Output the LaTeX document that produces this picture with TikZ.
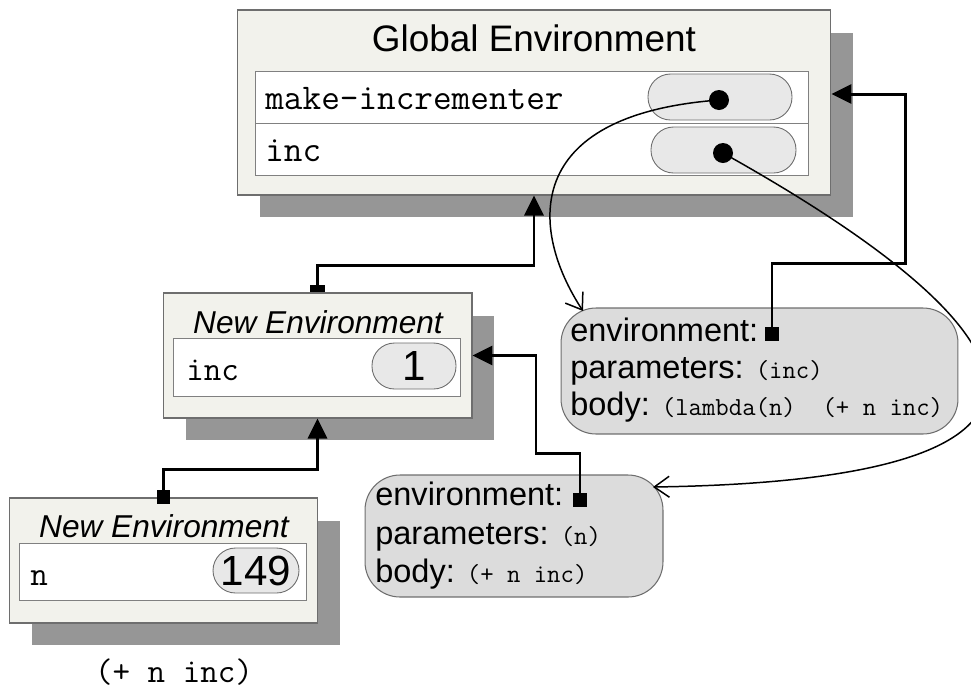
\documentclass[tikz,border=0pt]{standalone}
\usepackage{fontspec}
\setmainfont{Liberation Sans}
\usetikzlibrary{arrows.meta,shadows}
\definecolor{envfill}{HTML}{F2F2EC}
\definecolor{shade}{HTML}{969696}
\definecolor{edge}{HTML}{6E6E6E}
\definecolor{rowedge}{HTML}{808080}
\definecolor{pillfill}{HTML}{E8E8E8}
\definecolor{procfill}{HTML}{DCDCDC}
\newcommand{\codefont}{\ttfamily\fontsize{14.8}{17}\selectfont}

\begin{document}
\begin{tikzpicture}[x=0.02cm, y=-0.02cm,
        envbox/.style={draw=edge, fill=envfill, line width=0.6pt,
            drop shadow={shadow xshift=0.45cm, shadow yshift=-0.45cm, fill=shade, opacity=1}},
        row/.style={draw=rowedge, fill=white, line width=0.5pt},
        pill/.style={draw=edge, fill=pillfill, line width=0.5pt, rounded corners=0.45cm,
            font=\fontsize{24}{28}\selectfont},
        dot/.style={circle, fill=black, inner sep=0pt, minimum size=0.4cm},
        title/.style={inner sep=0pt, font=\fontsize{21}{25}\selectfont},
        envtitle/.style={inner sep=0pt, font=\itshape\fontsize{18}{21}\selectfont},
        varname/.style={inner sep=0pt, anchor=base west, font=\ttfamily\fontsize{#1}{22}\selectfont},
        procbox/.style={draw=edge, fill=procfill, line width=0.6pt, rounded corners=0.7cm},
        proctext/.style={inner sep=0pt, anchor=base west, font=\fontsize{18.5}{21}\selectfont},
        ptr/.style={line width=1.7pt, {Square[length=0.28cm, width=0.28cm]}-{Triangle[length=0.4cm, width=0.38cm]}},
        link/.style={line width=0.85pt, -{Straight Barb[length=0.3cm, width=0.42cm]}}
    ]
        \useasboundingbox (0,0) rectangle (971,691);

        \node[envbox, minimum width=11.88cm, minimum height=3.7cm] (global) at (534,102.5) {};
        \node[title] (globaltitle) at (534,38) {Global Environment};
        \node[row, minimum width=11.06cm, minimum height=1.04cm] (grow1) at (531.5,97) {};
        \node[row, minimum width=11.06cm, minimum height=1.04cm] (grow2) at (531.5,149) {};
        \node[varname=20.6] (gname1) at (265,109) {make-incrementer};
        \node[varname=20.6] (gname2) at (265,161) {inc};
        \node[pill, minimum width=2.88cm, minimum height=0.92cm] (gval1) at (720,97) {};
        \node[pill, minimum width=2.9cm, minimum height=0.92cm] (gval2) at (723.5,150) {};
        \node[dot] (gdot1) at (719,100) {};
        \node[dot] (gdot2) at (723,153) {};

        \node[envbox, minimum width=6.18cm, minimum height=2.5cm] (ne1) at (317.5,355.5) {};
        \node[envtitle] (ne1title) at (318,322) {New Environment};
        \node[row, minimum width=5.74cm, minimum height=1.16cm] (ne1row) at (316.5,367) {};
        \node[varname=19.4] (ne1name) at (186,380) {inc};
        \node[pill, minimum width=1.68cm, minimum height=0.92cm] (ne1val) at (414,366) {1};

        \node[envbox, minimum width=6.18cm, minimum height=2.5cm] (ne2) at (163.5,560.5) {};
        \node[envtitle] (ne2title) at (164,526) {New Environment};
        \node[row, minimum width=5.74cm, minimum height=1.14cm] (ne2row) at (162.5,571.5) {};
        \node[varname=19.4] (ne2name) at (30,585) {n};
        \node[pill, minimum width=1.72cm, minimum height=0.9cm] (ne2val) at (256,570.5) {149};

        \node[procbox, minimum width=7.94cm, minimum height=2.52cm] (proc1) at (759.5,371) {};
        \node[proctext] (p1env) at (570,341) {environment:};
        \node[proctext] (p1par) at (570,378) {parameters: {\codefont (inc)}};
        \node[proctext] (p1body) at (570,415) {body: {\codefont (lambda(n)\ \ (+ n inc)}};

        \node[procbox, minimum width=5.96cm, minimum height=2.44cm] (proc2) at (514,536) {};
        \node[proctext] (p2env) at (375,505) {environment:};
        \node[proctext] (p2par) at (375,544) {parameters: {\codefont (n)}};
        \node[proctext] (p2body) at (375,582) {body: {\codefont (+ n inc)}};

        \node[inner sep=0pt, font=\ttfamily\fontsize{19.4}{22}\selectfont] (expr) at (174,672) {(+ n inc)};

        \coordinate (p1ptr) at (772,341);
        \coordinate (p1bend) at (905,263);
        \coordinate (p2ptr) at (580,507);
        \coordinate (p2bend) at (536,453);
        \coordinate (p1tip) at (583,311);
        \coordinate (p2tip) at (653,487);

        \draw[ptr] (p1ptr) |- (p1bend) |- ([yshift=0.17cm]global.east);
        \draw[ptr] (p2ptr) |- (p2bend) |- (ne1.east);
        \draw[ptr, {Square[length=0.14cm, width=0.3cm]}-{Triangle[length=0.4cm, width=0.38cm]}]
            (ne1.north) -- ++(0,-27) -| (global.south);
        \draw[ptr] ([yshift=-0.14cm]ne2.north) -- ++(0,-35) -| (ne1.south);

        \draw[link] (gdot1.center) .. controls (520,115) and (530,230) .. (p1tip);
        \draw[link] (gdot2.center) .. controls (1040,330) and (1130,480) .. (p2tip);
    \end{tikzpicture}
\end{document}
